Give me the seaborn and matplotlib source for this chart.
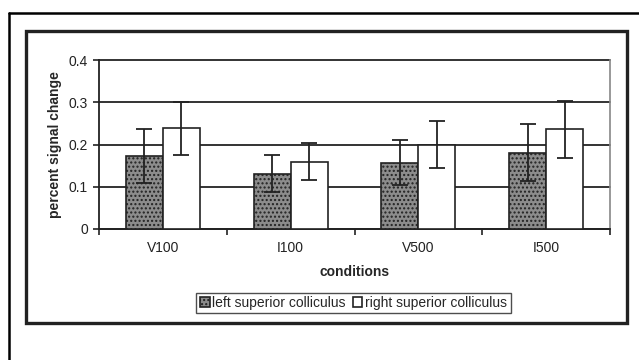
import matplotlib
matplotlib.use("Agg")
import matplotlib.pyplot as plt
import seaborn as sns
import pandas as pd
import numpy as np
from matplotlib.lines import Line2D
from matplotlib.patches import Rectangle
from matplotlib.ticker import FixedLocator

conditions = ["V100", "I100", "V500", "I500"]
hemispheres = ["left superior colliculus", "right superior colliculus"]
left_vals = [0.173, 0.131, 0.157, 0.181]
right_vals = [0.238, 0.159, 0.200, 0.236]
left_err = [0.063, 0.044, 0.054, 0.067]
right_err = [0.063, 0.044, 0.056, 0.067]
y_ticks = [0, 0.1, 0.2, 0.3, 0.4]
y_ticklabels = ["0", "0.1", "0.2", "0.3", "0.4"]

df = pd.DataFrame({
    "conditions": conditions * 2,
    "hemisphere": [hemispheres[0]] * 4 + [hemispheres[1]] * 4,
    "value": left_vals + right_vals,
    "err": left_err + right_err,
})

sns.set_style("white")
plt.rcParams["font.family"] = ["Liberation Sans", "DejaVu Sans"]
plt.rcParams["font.size"] = 10

fig = plt.figure(figsize=(6.39, 3.6), dpi=100)
ax = fig.add_axes([99/639, 1-229/360, (610-99)/639, (229-60)/360])

sns.barplot(data=df, x="conditions", y="value", hue="hemisphere",
            order=conditions, hue_order=hemispheres,
            palette=["#8c8c8c", "white"], errorbar=None, width=0.58,
            edgecolor="#222222", linewidth=1.2, ax=ax, legend=True, zorder=3)

# hatch texture on left bars
nb = len(conditions)
for i, p in enumerate(ax.patches[:nb]):
    p.set_hatch("....")

# error bars at bar centres
for h_idx, (vals, errs) in enumerate([(left_vals, left_err), (right_vals, right_err)]):
    patches = ax.patches[h_idx*nb:(h_idx+1)*nb]
    xs = [p.get_x() + p.get_width()/2 for p in patches]
    ax.errorbar(xs, vals, yerr=errs, fmt="none", ecolor="#222222",
                elinewidth=1.3, capsize=5.5, capthick=1.3, zorder=4)

ax.set_ylim(0, 0.4)
ax.set_xlim(-0.5, 3.5)
ax.set_yticks(y_ticks)
ax.set_yticklabels(y_ticklabels)
ax.yaxis.grid(True, color="#111111", linewidth=1.2, zorder=0)
ax.set_axisbelow(True)
for gl in ax.get_ygridlines():
    gl.set_clip_on(False)
ax.spines["top"].set_visible(False)
ax.spines["right"].set_color("#888888")
ax.spines["right"].set_linewidth(1.2)
ax.spines["left"].set_color("#222222")
ax.spines["left"].set_linewidth(1.3)
ax.spines["bottom"].set_color("#222222")
ax.spines["bottom"].set_linewidth(1.3)

ax.tick_params(axis="y", which="major", left=True, length=4, width=1.2,
               direction="out", pad=4, labelsize=10, colors="#222222")
ax.tick_params(axis="x", which="major", length=0, pad=9, labelsize=10, colors="#222222")
ax.xaxis.set_minor_locator(FixedLocator([-0.5, 0.5, 1.5, 2.5, 3.5]))
ax.tick_params(axis="x", which="minor", bottom=True, length=4, width=1.2,
               direction="out", color="#222222")

ax.set_xlabel("conditions", fontweight="bold", fontsize=10, labelpad=7)
ax.set_ylabel("percent signal change", fontweight="bold", fontsize=10, labelpad=5)

leg = ax.legend(loc="center", bbox_to_anchor=(353.5/639, 1-303/360),
                bbox_transform=fig.transFigure, ncol=2, frameon=True,
                fancybox=False, edgecolor="#222222", fontsize=10,
                handlelength=0.7, handleheight=0.7, handletextpad=0.2,
                columnspacing=0.5, borderpad=0.25, borderaxespad=0)
leg.get_frame().set_linewidth(1.0)
for hnd in leg.legend_handles:
    hnd.set_edgecolor("#222222")
    hnd.set_linewidth(1.2)
leg.legend_handles[0].set_hatch("....")

# outer frame lines
fig.add_artist(Line2D([9/639, 9/639], [0, 1-13/360], transform=fig.transFigure,
                      color="black", linewidth=1.8))
fig.add_artist(Line2D([9/639, 1], [1-13/360, 1-13/360], transform=fig.transFigure,
                      color="black", linewidth=1.8))
# inner frame
fig.add_artist(Rectangle((26/639, 1-323/360), (627-26)/639, (323-31)/360,
                         transform=fig.transFigure, fill=False,
                         edgecolor="#222222", linewidth=2.4))

fig.savefig("out.png", dpi=100)
